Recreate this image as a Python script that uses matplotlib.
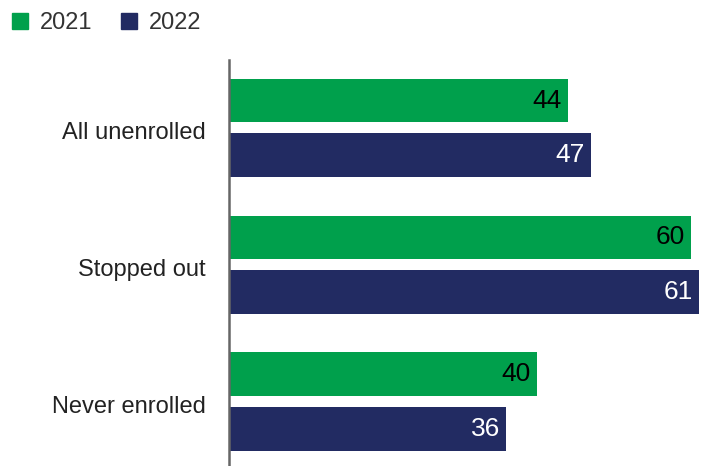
import numpy as np
import matplotlib
matplotlib.use("Agg")
import matplotlib.pyplot as plt
import matplotlib.transforms as mtransforms
from matplotlib.patches import Patch

plt.rcParams["font.family"] = ["Liberation Sans", "DejaVu Sans"]

# data
categories = ["All unenrolled", "Stopped out", "Never enrolled"]
years = ["2021", "2022"]
values_2021 = [44, 60, 40]
values_2022 = [47, 61, 36]

GREEN = "#00A04C"
NAVY = "#222B62"

fig = plt.figure(figsize=(7.04, 4.66), dpi=100)
ax = fig.add_axes([229 / 704, 0.0, 1 - 229 / 704, 1 - 60 / 466])

y = np.arange(len(categories))
h = 0.32
off = 0.2
b1 = ax.barh(y - off, values_2021, height=h, color=GREEN)
b2 = ax.barh(y + off, values_2022, height=h, color=NAVY)

for bars, vals, col in [(b1, values_2021, "black"), (b2, values_2022, "white")]:
    for bar, v in zip(bars, vals):
        ax.text(bar.get_width() - 0.8, bar.get_y() + bar.get_height() / 2,
                str(v), ha="right", va="center", fontsize=19, color=col)

ax.set_xlim(0, 61.65)
ax.set_ylim(2.47, -0.496)
ax.set_yticks(y)
ax.set_yticklabels(categories, fontsize=17, color="#222222")
ax.tick_params(axis="y", length=0, pad=17)
# nudge category labels a few pixels down, like the original
shift = mtransforms.ScaledTranslation(0, -3 / 100, fig.dpi_scale_trans)
for lbl in ax.get_yticklabels():
    lbl.set_transform(lbl.get_transform() + shift)
ax.set_xticks([])
for s in ["top", "right", "bottom"]:
    ax.spines[s].set_visible(False)
ax.spines["left"].set_color("#666666")
ax.spines["left"].set_linewidth(1.8)

handles = [Patch(color=GREEN), Patch(color=NAVY)]
fig.legend(handles, years, loc="upper left", bbox_to_anchor=(12 / 704, 1 - 12 / 466),
           ncol=2, frameon=False, fontsize=17, borderpad=0, borderaxespad=0,
           handlelength=0.68, handleheight=0.68,
           handletextpad=0.5, columnspacing=1.2, labelcolor="#333333")

fig.savefig("out.png", dpi=100)
